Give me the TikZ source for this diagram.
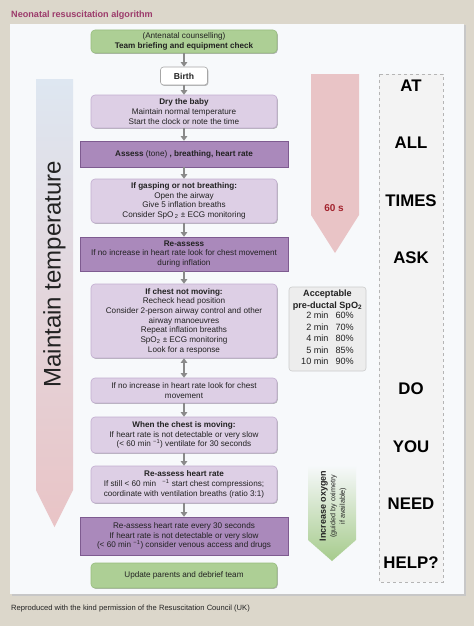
\documentclass[tikz,border=0pt]{standalone}
\usepackage{fontspec}
\setmainfont{Liberation Sans}
\usetikzlibrary{arrows.meta,shadows}
\definecolor{bg}{HTML}{DCD7CB}
\definecolor{panel}{HTML}{F7F9FB}
\definecolor{titlec}{HTML}{9C3B6B}
\definecolor{gfill}{HTML}{ADCF95}
\definecolor{gdraw}{HTML}{97BD7E}
\definecolor{lpfill}{HTML}{DDCFE5}
\definecolor{lpdraw}{HTML}{C2ADD0}
\definecolor{dpfill}{HTML}{AA89BB}
\definecolor{dpdraw}{HTML}{7E5B90}
\definecolor{arrc}{HTML}{8A8A8A}
\definecolor{pinkc}{HTML}{E9C4C6}
\definecolor{redt}{HTML}{A3232D}
\definecolor{bluec}{HTML}{DEE7F1}
\definecolor{tblfill}{HTML}{EDEDED}
\definecolor{tbldraw}{HTML}{CCCCCC}
\definecolor{dashfill}{HTML}{F3F3F3}
\definecolor{dashdraw}{HTML}{B5B5B5}
\definecolor{txt}{HTML}{222222}
\definecolor{oxg}{HTML}{A6CB8C}
\tikzset{
  shad/.style={drop shadow={shadow xshift=0.8pt,shadow yshift=-0.9pt,opacity=0.28,fill=black}},
  box/.style={minimum width=186pt, inner sep=0pt, align=center, text=txt,
    font=\fontsize{8.15}{9.7}\selectfont, line width=0.6pt},
  gbox/.style={box, rounded corners=4pt, fill=gfill, draw=gdraw, shad},
  lbox/.style={box, rounded corners=4pt, fill=lpfill, draw=lpdraw, shad},
  dbox/.style={box, minimum width=208pt, fill=dpfill, draw=dpdraw, shad},
  wbox/.style={box, minimum width=47pt, rounded corners=3pt, fill=white, draw=gray!70, shad},
  arr/.style={draw=arrc, line width=2pt, -{Triangle[width=6.5pt,length=4.5pt]}},
  darr/.style={draw=arrc, line width=2pt, {Triangle[width=6.5pt,length=4.5pt]}-{Triangle[width=6.5pt,length=4.5pt]}},
  bigword/.style={font=\fontsize{16.8}{18}\selectfont\bfseries, text=black},
}
\begin{document}
\begin{tikzpicture}[x=1pt,y=-1pt]
\useasboundingbox (0,0) rectangle (474,626);
\fill[bg] (0,0) rectangle (474,626);
\fill[black!22] (11.5,25.5) rectangle (465.5,596);
\fill[panel] (10,24) rectangle (464,594);
\node[anchor=base west, font=\fontsize{9.1}{10}\selectfont\bfseries, text=titlec, inner sep=0pt] (title) at (11,17.5) {Neonatal resuscitation algorithm};
\node[anchor=base west, font=\fontsize{7.6}{9}\selectfont, text=txt, inner sep=0pt] (footer) at (11,610) {Reproduced with the kind permission of the Resuscitation Council (UK)};

% side arrows
\shade[top color=bluec, bottom color=pinkc] (36,79) -- (73,79) -- (73,490) -- (54.5,527) -- (36,490) -- cycle;
\node[rotate=90, font=\fontsize{24}{26}\selectfont, text=txt] (maint) at (54.5,274) {Maintain temperature};
\fill[pinkc] (311,74) -- (359,74) -- (359,215) -- (335,253) -- (311,215) -- cycle;
\node[font=\fontsize{10}{12}\selectfont\bfseries, text=redt] (sixty) at (334,208) {60 s};
\shade[top color=panel, bottom color=oxg] (308,465) -- (356,465) -- (356,540) -- (332,561) -- (308,540) -- cycle;
\node[rotate=90, align=center, text=txt, font=\fontsize{7.2}{9.6}\selectfont] (oxy) at (333,506)
  {{\fontsize{9}{10}\selectfont\bfseries Increase oxygen}\\(guided by oximetry\\if available)};

% dashed box
\draw[dashdraw, fill=dashfill, dashed, line width=0.6pt] (379,74) rectangle (443,582);
\node[bigword] (w1) at (411,86) {AT};
\node[bigword] (w2) at (411,143) {ALL};
\node[bigword] (w3) at (411,201) {TIMES};
\node[bigword] (w4) at (411,258) {ASK};
\node[bigword] (w5) at (411,389) {DO};
\node[bigword] (w6) at (411,447) {YOU};
\node[bigword] (w7) at (411,504) {NEED};
\node[bigword] (w8) at (411,563) {HELP?};

% SpO2 table
\node[draw=tbldraw, fill=tblfill, rounded corners=3pt, minimum width=77pt, minimum height=84pt, inner sep=0pt, line width=0.6pt,
  align=center, text=txt, font=\fontsize{9.1}{11.4}\selectfont] (tbl) at (327.5,329)
  {\textbf{Acceptable}\\\textbf{pre-ductal SpO\textsubscript{2}}\\
   \begin{tabular}{@{}r@{\hspace{7pt}}l@{}}2 min & 60\%\\2 min & 70\%\\4 min & 80\%\\5 min & 85\%\\10 min & 90\%\end{tabular}};

% main flow
\node[gbox, minimum height=23pt] (brief) at (184,41.5) {(Antenatal counselling)\\\textbf{Team briefing and equipment check}};
\node[wbox, minimum height=18pt, font=\fontsize{8.6}{10}\selectfont\bfseries] (birth) at (184,76) {Birth};
\node[lbox, minimum height=33pt] (dry) at (184,111.5) {\textbf{Dry the baby}\\Maintain normal temperature\\Start the clock or note the time};
\node[dbox, minimum height=26pt] (assess) at (184,154) {\textbf{Assess} (tone) \textbf{, breathing, heart rate}};
\node[lbox, minimum height=44pt] (gasp) at (184,201) {\textbf{If gasping or not breathing:}\\Open the airway\\Give 5 inflation breaths\\Consider SpO\,\textsubscript{2} ± ECG monitoring};
\node[dbox, minimum height=34pt] (reass) at (184,254) {\textbf{Re-assess}\\If no increase in heart rate look for chest movement\\during inflation};
\node[lbox, minimum height=74pt] (chest) at (184,321) {\textbf{If chest not moving:}\\Recheck head position\\Consider 2-person airway control and other\\airway manoeuvres\\Repeat inflation breaths\\SpO\textsubscript{2} ± ECG monitoring\\Look for a response};
\node[lbox, minimum height=25pt] (ifno) at (184,390.5) {If no increase in heart rate look for chest\\movement};
\node[lbox, minimum height=36pt] (when) at (184,435) {\textbf{When the chest is moving:}\\If heart rate is not detectable or very slow\\(< 60 min \textsuperscript{−1}) ventilate for 30 seconds};
\node[lbox, minimum height=37pt] (rehr) at (184,484.5) {\textbf{Re-assess heart rate}\\If still < 60 min \enspace\textsuperscript{−1} start chest compressions;\\coordinate with ventilation breaths (ratio 3:1)};
\node[dbox, minimum height=38pt] (final) at (184,536) {Re-assess heart rate every 30 seconds\\If heart rate is not detectable or very slow\\(< 60 min \textsuperscript{−1}) consider venous access and drugs};
\node[gbox, minimum height=25pt] (update) at (184,575.5) {Update parents and debrief team};

\draw[arr] (brief) -- (birth);
\draw[arr] (birth) -- (dry);
\draw[arr] (dry) -- (assess);
\draw[arr] (assess) -- (gasp);
\draw[arr] (gasp) -- (reass);
\draw[arr] (reass) -- (chest);
\draw[darr] (chest) -- (ifno);
\draw[arr] (ifno) -- (when);
\draw[arr] (when) -- (rehr);
\draw[arr] (rehr) -- (final);
\end{tikzpicture}
\end{document}
